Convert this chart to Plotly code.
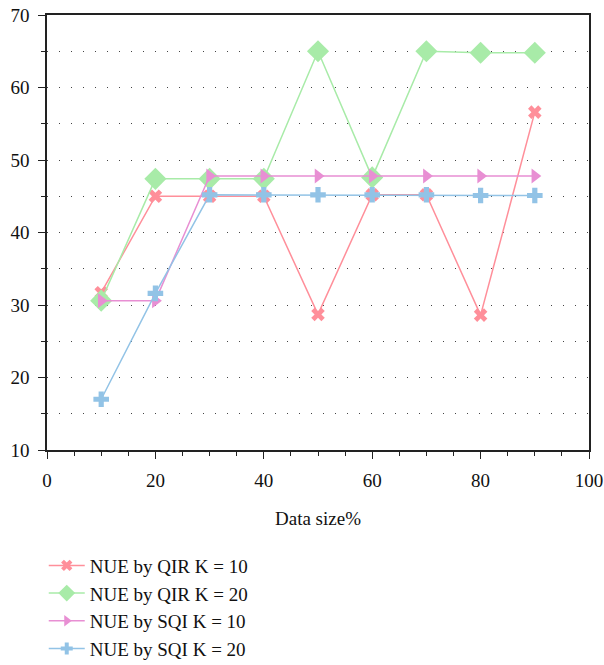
import plotly.graph_objects as go

data_size = [10, 20, 30, 40, 50, 60, 70, 80, 90]
qir_k10 = [31.7, 45.0, 45.0, 45.0, 28.7, 45.2, 45.2, 28.6, 56.6]
qir_k20 = [30.6, 47.4, 47.4, 47.4, 65.0, 47.6, 65.0, 64.8, 64.8]
sqi_k10 = [30.6, 30.6, 47.8, 47.8, 47.8, 47.8, 47.8, 47.8, 47.8]
sqi_k20 = [17.0, 31.6, 45.2, 45.2, 45.2, 45.2, 45.2, 45.1, 45.1]

series = [
    ("NUE by QIR K = 10", qir_k10, "#ff8f9a", "x", 12, 10),
    ("NUE by QIR K = 20", qir_k20, "#a8eba8", "diamond", 17, 13),
    ("NUE by SQI K = 10", sqi_k10, "#e88fd3", "triangle-right", 13, 10),
    ("NUE by SQI K = 20", sqi_k20, "#92c3e6", "cross", 13, 10),
]

font_family = "Liberation Serif, DejaVu Serif, serif"

fig = go.Figure()
for name, ys, color, symbol, size, lsize in series:
    fig.add_trace(go.Scatter(
        x=data_size, y=ys, name=name, mode="lines+markers", showlegend=False,
        legendgroup=name,
        line=dict(color=color, width=1.5),
        marker=dict(symbol=symbol, size=size, color=color, line=dict(width=0)),
    ))
# legend entries (smaller symbols, as in the reference legend)
for name, ys, color, symbol, size, lsize in series:
    fig.add_trace(go.Scatter(
        x=[None], y=[None], name=name, mode="lines+markers", showlegend=True,
        legendgroup=name,
        line=dict(color=color, width=1.5),
        marker=dict(symbol=symbol, size=lsize, color=color, line=dict(width=0)),
    ))

axis_common = dict(
    showline=True, linecolor="#222", linewidth=1.5, mirror=True,
    ticks="outside", tickcolor="#222", ticklen=7, tickwidth=1.2,
    tickfont=dict(family=font_family, size=19, color="#111"),
    zeroline=False, automargin=False, ticklabelstandoff=5,
)

fig.update_layout(
    width=604, height=665,
    margin=dict(l=47, r=15, t=15, b=215, autoexpand=False),
    plot_bgcolor="white", paper_bgcolor="white",
    font=dict(family=font_family, size=19, color="#111"),
    xaxis=dict(
        range=[0, 100], dtick=20, tick0=0, showgrid=False,
        title=dict(text="Data size%", font=dict(family=font_family, size=19), standoff=22),
        minor=dict(dtick=5, ticks="outside", ticklen=4, tickcolor="#222", showgrid=False),
        **axis_common,
    ),
    yaxis=dict(
        range=[10, 70], dtick=10, tick0=10,
        showgrid=True, gridcolor="#444", gridwidth=1, griddash="1px,11px",
        minor=dict(dtick=5, ticks="outside", ticklen=4, tickcolor="#222",
                   showgrid=True, gridcolor="#444", gridwidth=1, griddash="1px,11px"),
        **axis_common,
    ),
    showlegend=True,
    legend=dict(
        x=-0.006, y=-0.222, xanchor="left", yanchor="top",
        font=dict(family=font_family, size=19, color="#111"),
        bgcolor="rgba(0,0,0,0)", tracegroupgap=0, itemsizing="trace",
        itemwidth=36,
    ),
)

fig.write_html("out.html", config={"displayModeBar": False},
               post_script="document.body.style.margin='0';")
